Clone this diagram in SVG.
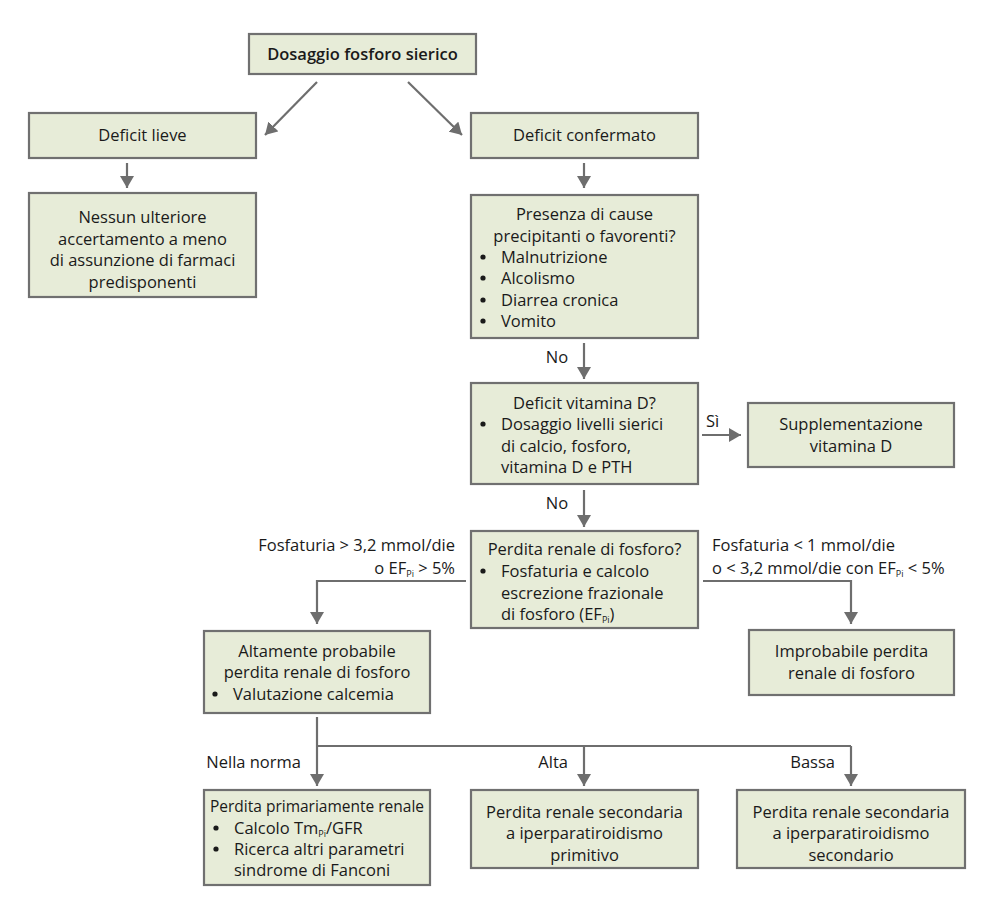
<svg xmlns="http://www.w3.org/2000/svg" width="993" height="920" viewBox="0 0 993 920">
<defs>
<marker id="ah" viewBox="0 0 12 14" refX="12" refY="7" markerWidth="12" markerHeight="14" markerUnits="userSpaceOnUse" orient="auto">
<path d="M0,0 L12,7 L0,14 Z" fill="#6e6e6e"/>
</marker>
</defs>
<style>
.box{fill:#e7ecd8;stroke:#707070;stroke-width:2.2}
.t{font-family:"Open Sans","Liberation Sans",sans-serif;font-size:16.5px;fill:#1a1a1a}
.c{text-anchor:middle}
.r{text-anchor:end}
.b{font-weight:600}
.s{font-size:9px}
.ln{fill:none;stroke:#6e6e6e;stroke-width:2.2}
.bul{fill:#1a1a1a}
</style>
<rect width="993" height="920" fill="#ffffff"/>

<g id="connectors">
<line class="ln" x1="317" y1="82" x2="265" y2="135" marker-end="url(#ah)"/>
<line class="ln" x1="408" y1="82" x2="462" y2="135" marker-end="url(#ah)"/>
<line class="ln" x1="127" y1="163" x2="127" y2="188" marker-end="url(#ah)"/>
<line class="ln" x1="584" y1="163" x2="584" y2="188" marker-end="url(#ah)"/>
<line class="ln" x1="584" y1="343" x2="584" y2="379" marker-end="url(#ah)"/>
<line class="ln" x1="584" y1="490" x2="584" y2="527" marker-end="url(#ah)"/>
<line class="ln" x1="702" y1="435" x2="741" y2="435" marker-end="url(#ah)"/>
<polyline class="ln" points="466,581 317,581 317,624" marker-end="url(#ah)"/>
<polyline class="ln" points="703,581 851,581 851,624" marker-end="url(#ah)"/>
<line class="ln" x1="317" y1="717" x2="317" y2="786" marker-end="url(#ah)"/>
<line class="ln" x1="317" y1="746" x2="851" y2="746"/>
<line class="ln" x1="584" y1="746" x2="584" y2="786" marker-end="url(#ah)"/>
<line class="ln" x1="851" y1="746" x2="851" y2="786" marker-end="url(#ah)"/>
<text class="t c" x="557" y="363">No</text>
<text class="t c" x="557" y="509">No</text>
<text class="t" x="706" y="427">Sì</text>
<text class="t r" x="455" y="551">Fosfaturia &gt; 3,2 mmol/die</text>
<text class="t r" x="455" y="574">o EF<tspan class="s" dy="3">Pi</tspan><tspan dy="-3"> &gt; 5%</tspan></text>
<text class="t" x="712" y="551">Fosfaturia &lt; 1 mmol/die</text>
<text class="t" x="712" y="574">o &lt; 3,2 mmol/die con EF<tspan class="s" dy="3">Pi</tspan><tspan dy="-3"> &lt; 5%</tspan></text>
<text class="t r" x="301" y="768">Nella norma</text>
<text class="t r" x="568" y="768">Alta</text>
<text class="t r" x="835" y="768">Bassa</text>
</g>

<g id="n1">
<rect class="box" x="249" y="34" width="227" height="40"/>
<text class="t c b" x="362.5" y="60">Dosaggio fosforo sierico</text>
</g>

<g id="n2">
<rect class="box" x="29" y="113" width="227" height="45"/>
<text class="t c" x="142.5" y="141">Deficit lieve</text>
</g>

<g id="n3">
<rect class="box" x="29" y="193" width="227" height="104"/>
<text class="t c" x="142.5" y="223">Nessun ulteriore</text>
<text class="t c" x="142.5" y="245">accertamento a meno</text>
<text class="t c" x="142.5" y="266">di assunzione di farmaci</text>
<text class="t c" x="142.5" y="288">predisponenti</text>
</g>

<g id="n4">
<rect class="box" x="471" y="113" width="227" height="45"/>
<text class="t c" x="584.5" y="141">Deficit confermato</text>
</g>

<g id="n5">
<rect class="box" x="471" y="195" width="227" height="143"/>
<text class="t c" x="584.5" y="220">Presenza di cause</text>
<text class="t c" x="584.5" y="242">precipitanti o favorenti?</text>
<circle class="bul" cx="483" cy="257" r="2.6"/>
<text class="t" x="501" y="263">Malnutrizione</text>
<circle class="bul" cx="483" cy="278" r="2.6"/>
<text class="t" x="501" y="284">Alcolismo</text>
<circle class="bul" cx="483" cy="300" r="2.6"/>
<text class="t" x="501" y="306">Diarrea cronica</text>
<circle class="bul" cx="483" cy="321" r="2.6"/>
<text class="t" x="501" y="327">Vomito</text>
</g>

<g id="n6">
<rect class="box" x="471" y="383" width="227" height="101"/>
<text class="t c" x="584.5" y="409">Deficit vitamina D?</text>
<circle class="bul" cx="483" cy="424" r="2.6"/>
<text class="t" x="501" y="430">Dosaggio livelli sierici</text>
<text class="t" x="501" y="452">di calcio, fosforo,</text>
<text class="t" x="501" y="473">vitamina D e PTH</text>
</g>

<g id="n7">
<rect class="box" x="748" y="403" width="206" height="64"/>
<text class="t c" x="851" y="430">Supplementazione</text>
<text class="t c" x="851" y="452">vitamina D</text>
</g>

<g id="n8">
<rect class="box" x="471" y="531" width="227" height="97"/>
<text class="t c" x="584.5" y="555">Perdita renale di fosforo?</text>
<circle class="bul" cx="483" cy="571" r="2.6"/>
<text class="t" x="501" y="577">Fosfaturia e calcolo</text>
<text class="t" x="501" y="599">escrezione frazionale</text>
<text class="t" x="501" y="620">di fosforo (EF<tspan class="s" dy="3">Pi</tspan><tspan dy="-3">)</tspan></text>
</g>

<g id="n9">
<rect class="box" x="204" y="631" width="226" height="82"/>
<text class="t c" x="317" y="657">Altamente probabile</text>
<text class="t c" x="317" y="678">perdita renale di fosforo</text>
<circle class="bul" cx="215" cy="694" r="2.6"/>
<text class="t" x="233" y="700">Valutazione calcemia</text>
</g>

<g id="n10">
<rect class="box" x="749" y="630" width="205" height="65"/>
<text class="t c" x="851.5" y="657">Improbabile perdita</text>
<text class="t c" x="851.5" y="679">renale di fosforo</text>
</g>

<g id="n11">
<rect class="box" x="204" y="790" width="226" height="95"/>
<text class="t" x="210" y="812" textLength="214" lengthAdjust="spacingAndGlyphs">Perdita primariamente renale</text>
<circle class="bul" cx="216" cy="828" r="2.6"/>
<text class="t" x="234" y="834">Calcolo Tm<tspan class="s" dy="3">Pi</tspan><tspan dy="-3">/GFR</tspan></text>
<circle class="bul" cx="216" cy="849" r="2.6"/>
<text class="t" x="234" y="855">Ricerca altri parametri</text>
<text class="t" x="234" y="876">sindrome di Fanconi</text>
</g>

<g id="n12">
<rect class="box" x="471" y="790" width="227" height="78"/>
<text class="t c" x="584.5" y="818">Perdita renale secondaria</text>
<text class="t c" x="584.5" y="839">a iperparatiroidismo</text>
<text class="t c" x="584.5" y="861">primitivo</text>
</g>

<g id="n13">
<rect class="box" x="737" y="790" width="228" height="78"/>
<text class="t c" x="851" y="818">Perdita renale secondaria</text>
<text class="t c" x="851" y="839">a iperparatiroidismo</text>
<text class="t c" x="851" y="861">secondario</text>
</g>
</svg>
